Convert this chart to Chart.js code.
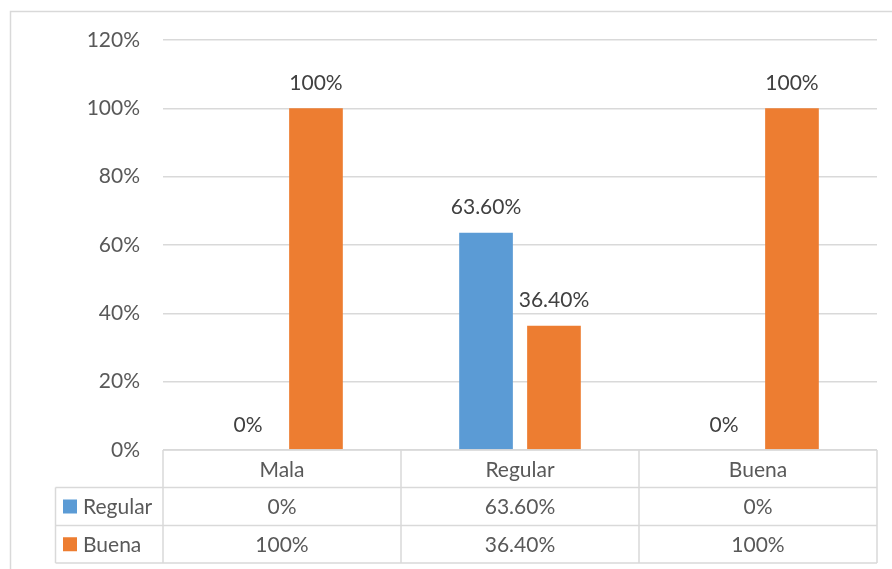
<!DOCTYPE html>
<html>
<head>
<meta charset="utf-8">
<script src="https://cdn.jsdelivr.net/npm/chart.js@4"></script>
<style>
  html, body { margin: 0; padding: 0; background: #fff; }
  #wrap { width: 892px; height: 569px; position: relative; }
</style>
</head>
<body>
<div id="wrap"><canvas id="grafico"></canvas></div>
<script>
const categorias = ['Mala', 'Regular', 'Buena'];
const regular = [0, 63.6, 0];
const buena = [100, 36.4, 100];
const series = ['Regular', 'Buena'];
const colores = ['#5B9BD5', '#ED7D31'];
const yTicks = { min: 0, max: 120, step: 20 };

const FUENTE = 'Lato, "Open Sans", sans-serif';
const TAM = 21;

// 100 -> "100%", 63.6 -> "63.60%"
function pct(v) {
  return Number.isInteger(v) ? v + '%' : v.toFixed(2) + '%';
}

// marco exterior del gráfico
const marco = {
  id: 'marco',
  beforeDraw(chart) {
    const ctx = chart.ctx;
    ctx.save();
    ctx.fillStyle = '#fff';
    ctx.fillRect(0, 0, chart.width, chart.height);
    ctx.strokeStyle = '#d9d9d9';
    ctx.lineWidth = 1.5;
    ctx.strokeRect(10.5, 11.5, chart.width + 20, chart.height + 20);
    ctx.restore();
  }
};

// etiquetas de valor sobre cada barra
const etiquetas = {
  id: 'etiquetas',
  afterDatasetsDraw(chart) {
    const ctx = chart.ctx;
    ctx.save();
    ctx.font = TAM + 'px ' + FUENTE;
    ctx.fillStyle = '#404040';
    ctx.textAlign = 'center';
    ctx.textBaseline = 'middle';
    chart.data.datasets.forEach((ds, i) => {
      chart.getDatasetMeta(i).data.forEach((bar, j) => {
        ctx.fillText(pct(ds.data[j]), bar.x, bar.y - 25);
      });
    });
    ctx.restore();
  }
};

// tabla de datos debajo del eje x
const tabla = {
  id: 'tabla',
  afterDraw(chart) {
    const ctx = chart.ctx;
    const x = chart.scales.x;
    const top = chart.chartArea.bottom;
    const left = x.left;
    const right = x.right;
    const colW = (right - left) / categorias.length;
    const filas = [top, top + 37.5, top + 75.5, top + 113];
    const leyX = 55.5;

    ctx.save();
    ctx.strokeStyle = '#d9d9d9';
    ctx.lineWidth = 1.5;
    ctx.beginPath();
    // líneas horizontales
    ctx.moveTo(left, filas[0]); ctx.lineTo(right, filas[0]);
    for (let r = 1; r < filas.length; r++) {
      ctx.moveTo(leyX, filas[r]); ctx.lineTo(right, filas[r]);
    }
    // líneas verticales
    for (let c = 0; c <= categorias.length; c++) {
      const cx = left + c * colW;
      ctx.moveTo(cx, filas[0]); ctx.lineTo(cx, filas[3]);
    }
    ctx.moveTo(leyX, filas[1]); ctx.lineTo(leyX, filas[3]);
    ctx.stroke();

    ctx.font = TAM + 'px ' + FUENTE;
    ctx.fillStyle = '#595959';
    ctx.textAlign = 'center';
    ctx.textBaseline = 'middle';
    categorias.forEach((cat, c) => {
      const cx = left + (c + 0.5) * colW;
      ctx.fillText(cat, cx, (filas[0] + filas[1]) / 2 + 1);
      chart.data.datasets.forEach((ds, i) => {
        ctx.fillText(pct(ds.data[c]), cx, (filas[i + 1] + filas[i + 2]) / 2 + 1);
      });
    });

    // claves de la leyenda
    chart.data.datasets.forEach((ds, i) => {
      const cy = (filas[i + 1] + filas[i + 2]) / 2;
      ctx.fillStyle = ds.backgroundColor;
      ctx.fillRect(63, cy - 7, 14, 14);
      ctx.fillStyle = '#595959';
      ctx.textAlign = 'left';
      ctx.fillText(ds.label, 83, cy + 1);
    });
    ctx.restore();
  }
};

new Chart(document.getElementById('grafico'), {
  type: 'bar',
  data: {
    labels: categorias,
    datasets: [
      { label: series[0], data: regular, backgroundColor: colores[0] },
      { label: series[1], data: buena, backgroundColor: colores[1] }
    ]
  },
  options: {
    responsive: true,
    maintainAspectRatio: false,
    animation: false,
    categoryPercentage: 0.571,
    barPercentage: 0.79,
    layout: { padding: { left: 0, top: 40, right: 15, bottom: 0 } },
    plugins: {
      legend: { display: false },
      tooltip: { enabled: false }
    },
    scales: {
      x: {
        grid: { display: false },
        border: { display: false },
        ticks: { display: false },
        afterFit: (s) => { s.height = 119; }
      },
      y: {
        min: yTicks.min,
        max: yTicks.max,
        ticks: {
          stepSize: yTicks.step,
          padding: 23,
          color: '#595959',
          font: { family: FUENTE, size: TAM },
          callback: (v) => v + '%'
        },
        grid: { color: '#d9d9d9', lineWidth: 1.5, drawTicks: false },
        border: { display: false },
        afterFit: (s) => { s.width = 163; }
      }
    }
  },
  plugins: [marco, etiquetas, tabla]
});
</script>
</body>
</html>
